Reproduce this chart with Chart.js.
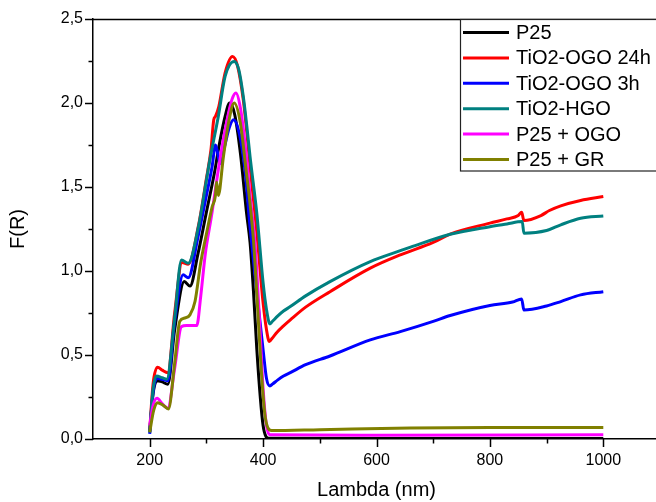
<!DOCTYPE html>
<html>
<head>
<meta charset="utf-8">
<script src="https://cdn.jsdelivr.net/npm/chart.js@4"></script>
<style>
  html, body { margin: 0; padding: 0; background: #fff; overflow: hidden; }
</style>
</head>
<body>
<canvas id="chartFR" width="660" height="502"></canvas>
<script>
// wavelength (nm) / F(R) values
const p25X = [200, 206, 213, 222, 232, 244, 261, 271, 285, 300, 315, 321, 333, 341, 350, 360, 371, 377, 383, 389, 395, 400, 405, 410, 600, 1000];
const p25Y = [0.04, 0.27, 0.347, 0.34, 0.326, 0.65, 0.937, 0.91, 1.1, 1.35, 1.6, 1.72, 1.92, 2.0, 1.93, 1.7, 1.34, 1.17, 0.88, 0.53, 0.25, 0.08, 0.015, 0.004, 0.003, 0.003];

const ogo24X = [200, 206, 214, 222, 232, 244, 257, 268, 286, 300, 308, 313, 316, 322, 333, 346, 355, 365, 372, 377, 389, 400, 406, 411, 416, 425, 435, 448, 475, 518, 589, 642, 700, 730, 800, 830, 850, 856, 860, 890, 905, 925, 960, 1000];
const ogo24Y = [0.05, 0.33, 0.427, 0.41, 0.395, 0.75, 1.05, 1.04, 1.27, 1.55, 1.72, 1.9, 1.92, 1.98, 2.18, 2.277, 2.22, 2.02, 1.8, 1.62, 1.227, 0.81, 0.65, 0.58, 0.6, 0.637, 0.67, 0.709, 0.785, 0.877, 1.017, 1.096, 1.17, 1.22, 1.285, 1.31, 1.33, 1.35, 1.3, 1.33, 1.36, 1.388, 1.42, 1.443];

const ogo3X = [200, 206, 213, 222, 232, 244, 259, 268, 285, 300, 310, 316, 320, 324, 332, 340, 348, 358, 368, 377, 389, 400, 406, 412, 417, 426, 436, 448, 475, 518, 589, 642, 700, 730, 800, 840, 856, 860, 900, 925, 960, 1000];
const ogo3Y = [0.03, 0.28, 0.361, 0.355, 0.347, 0.7, 0.977, 0.96, 1.2, 1.45, 1.62, 1.75, 1.7, 1.64, 1.74, 1.85, 1.9, 1.82, 1.6, 1.26, 0.87, 0.53, 0.36, 0.316, 0.328, 0.352, 0.375, 0.395, 0.442, 0.494, 0.59, 0.639, 0.7, 0.735, 0.795, 0.815, 0.834, 0.768, 0.792, 0.818, 0.858, 0.877];

const hgoX = [200, 206, 212, 222, 230, 244, 256, 268, 286, 300, 306, 321, 333, 349, 357, 365, 372, 377, 389, 400, 406, 412, 417, 426, 436, 448, 475, 518, 589, 642, 660, 730, 800, 830, 857, 860, 900, 925, 960, 1000];
const hgoY = [0.04, 0.3, 0.375, 0.365, 0.356, 0.72, 1.066, 1.046, 1.264, 1.54, 1.66, 1.92, 2.158, 2.247, 2.2, 2.04, 1.84, 1.68, 1.34, 0.93, 0.77, 0.685, 0.702, 0.733, 0.762, 0.788, 0.852, 0.937, 1.056, 1.121, 1.142, 1.219, 1.264, 1.28, 1.294, 1.225, 1.241, 1.275, 1.314, 1.328];

const p25OgoX = [200, 206, 213, 222, 232, 244, 256, 265, 283, 290, 298, 310, 320, 333, 345, 352, 360, 370, 377, 386, 393, 400, 406, 412, 600, 1000];
const p25OgoY = [0.08, 0.2, 0.242, 0.21, 0.183, 0.42, 0.669, 0.675, 0.675, 0.85, 1.1, 1.35, 1.58, 1.84, 2.02, 2.06, 1.97, 1.7, 1.45, 1.15, 0.75, 0.3, 0.08, 0.025, 0.022, 0.025];

const p25GrX = [200, 207, 214, 224, 233, 244, 253, 262, 271, 280, 290, 300, 310, 316, 318, 321, 330, 340, 349, 360, 370, 377, 383, 390, 397, 403, 408, 415, 500, 660, 800, 1000];
const p25GrY = [0.04, 0.17, 0.216, 0.2, 0.179, 0.45, 0.7, 0.72, 0.739, 0.82, 1.05, 1.22, 1.38, 1.45, 1.53, 1.45, 1.68, 1.9, 2.0, 1.88, 1.6, 1.4, 1.185, 0.8, 0.4, 0.15, 0.07, 0.05, 0.055, 0.065, 0.068, 0.068];

const seriesNames = ["P25", "TiO2-OGO 24h", "TiO2-OGO 3h", "TiO2-HGO", "P25 + OGO", "P25 + GR"];
const seriesColors = ["#000000", "#ff0000", "#0000ff", "#008080", "#ff00ff", "#808000"];
const seriesX = [p25X, ogo24X, ogo3X, hgoX, p25OgoX, p25GrX];
const seriesY = [p25Y, ogo24Y, ogo3Y, hgoY, p25OgoY, p25GrY];

const xTicks = [200, 300, 400, 500, 600, 700, 800, 900, 1000];
const yTicks = [0, 0.25, 0.5, 0.75, 1.0, 1.25, 1.5, 1.75, 2.0, 2.25, 2.5];

const fontFamily = '"Liberation Sans", Arial, sans-serif';

function toPoints(xs, ys) {
  return xs.map((x, i) => ({ x: x, y: ys[i] }));
}

// Origin style ticks: long major, short minor, pointing out
const tickMarks = {
  id: "tickMarks",
  afterDraw(chart) {
    const ctx = chart.ctx;
    const xs = chart.scales.x;
    const ys = chart.scales.y;
    const area = chart.chartArea;
    ctx.save();
    ctx.strokeStyle = "#000";
    ctx.lineWidth = 1.5;
    xTicks.forEach((v) => {
      const px = Math.round(xs.getPixelForValue(v)) + 0.5;
      const len = v % 200 === 0 ? 8 : 4.5;
      ctx.beginPath();
      ctx.moveTo(px, area.bottom);
      ctx.lineTo(px, area.bottom + len);
      ctx.stroke();
    });
    yTicks.forEach((v) => {
      const py = Math.round(ys.getPixelForValue(v)) + 0.5;
      const len = Math.abs(v * 2 - Math.round(v * 2)) < 1e-6 ? 8 : 4.5;
      ctx.beginPath();
      ctx.moveTo(area.left, py);
      ctx.lineTo(area.left - len, py);
      ctx.stroke();
    });
    // top frame line
    ctx.beginPath();
    ctx.moveTo(area.left, area.top + 0.5);
    ctx.lineTo(area.right, area.top + 0.5);
    ctx.stroke();
    ctx.restore();
  },
};

// boxed legend in the upper right corner
const boxLegend = {
  id: "boxLegend",
  afterDraw(chart) {
    const ctx = chart.ctx;
    ctx.save();
    ctx.fillStyle = "#fff";
    ctx.fillRect(461, 20, 220, 151);
    ctx.strokeStyle = "#222";
    ctx.lineWidth = 1.2;
    ctx.strokeRect(460.5, 19.5, 230, 151.5);
    ctx.font = "20px " + fontFamily;
    ctx.textBaseline = "middle";
    chart.data.datasets.forEach((ds, i) => {
      const y = 32.5 + i * 25.4;
      ctx.strokeStyle = ds.borderColor;
      ctx.lineWidth = 3;
      ctx.beginPath();
      ctx.moveTo(463, y);
      ctx.lineTo(509, y);
      ctx.stroke();
      ctx.fillStyle = "#000";
      ctx.fillText(ds.label, 516, y + 1);
    });
    ctx.restore();
  },
};

const datasets = seriesNames.map((name, i) => ({
  label: name,
  data: toPoints(seriesX[i], seriesY[i]),
  borderColor: seriesColors[i],
  backgroundColor: seriesColors[i],
  borderWidth: 3,
  pointRadius: 0,
  fill: false,
  cubicInterpolationMode: "monotone",
  order: seriesNames.length - i,
}));

const chart = new Chart(document.getElementById("chartFR"), {
  type: "line",
  data: { datasets: datasets },
  options: {
    responsive: false,
    animation: false,
    layout: { padding: { top: 19, right: 0, bottom: 0, left: 0 } },
    plugins: {
      legend: { display: false },
      tooltip: { enabled: false },
    },
    scales: {
      x: {
        type: "linear",
        min: 100,
        max: 1100,
        afterBuildTicks: (scale) => {
          scale.ticks = xTicks.map((v) => ({ value: v }));
        },
        afterFit: (scale) => {
          scale.height = 63;
        },
        grid: { display: false, drawTicks: true, tickLength: 8 },
        border: { display: true, color: "#000", width: 1.5 },
        ticks: {
          autoSkip: false,
          maxRotation: 0,
          padding: 4,
          color: "#000",
          font: { family: fontFamily, size: 16 },
          callback: (v) => (v % 200 === 0 ? String(v) : ""),
        },
        title: {
          display: true,
          text: "Lambda (nm)",
          color: "#000",
          font: { family: fontFamily, size: 20 },
          padding: { top: 0, bottom: 0 },
        },
      },
      y: {
        min: 0,
        max: 2.5,
        afterBuildTicks: (scale) => {
          scale.ticks = yTicks.map((v) => ({ value: v }));
        },
        afterFit: (scale) => {
          scale.width = 93;
        },
        grid: { display: false, drawTicks: true, tickLength: 8 },
        border: { display: true, color: "#000", width: 1.5 },
        ticks: {
          autoSkip: false,
          padding: 2,
          color: "#000",
          font: { family: fontFamily, size: 16 },
          callback: (v) => {
            const major = Math.abs(v * 2 - Math.round(v * 2)) < 1e-6;
            return major ? v.toFixed(1).replace(".", ",") : "";
          },
        },
        title: {
          display: true,
          text: "F(R)",
          color: "#000",
          font: { family: fontFamily, size: 20 },
          padding: { top: 6, bottom: 0 },
        },
      },
    },
  },
  plugins: [tickMarks, boxLegend],
});
</script>
</body>
</html>
